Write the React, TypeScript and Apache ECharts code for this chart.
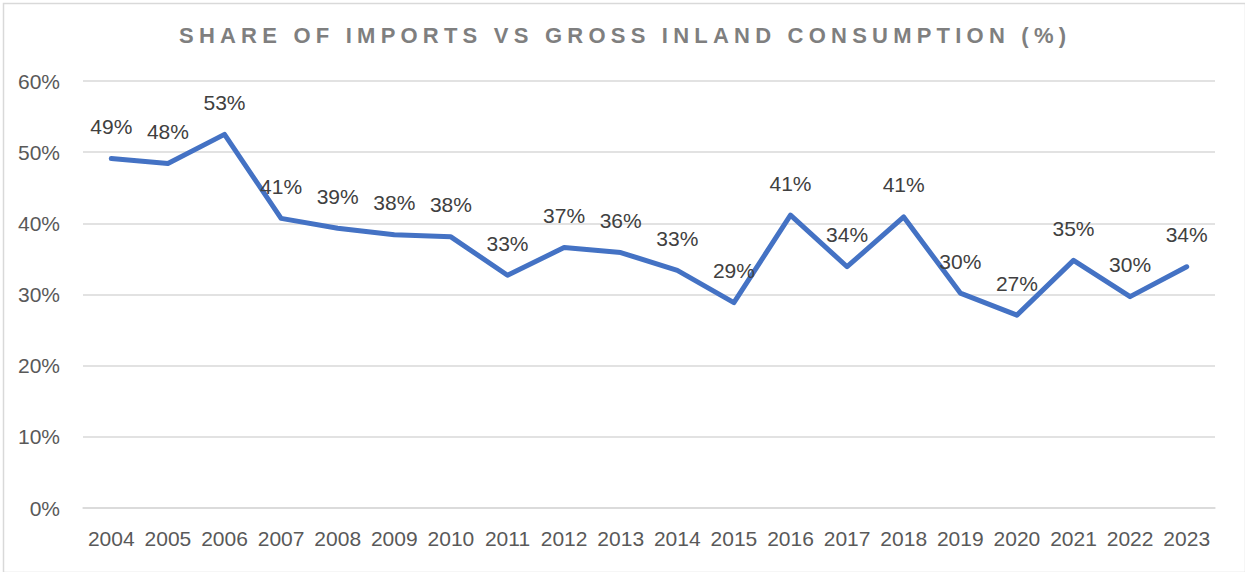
import React, { useEffect, useRef } from "react";
import * as echarts from "echarts";

const TITLE = "SHARE OF IMPORTS VS GROSS INLAND CONSUMPTION (%)";
const years = ["2004","2005","2006","2007","2008","2009","2010","2011","2012","2013","2014","2015","2016","2017","2018","2019","2020","2021","2022","2023"];
const shares = [49.1,48.4,52.5,40.7,39.3,38.4,38.1,32.7,36.6,35.9,33.4,28.85,41.15,33.9,40.9,30.2,27.1,34.8,29.7,33.9];
const yTicks = { min: 0, max: 60, interval: 10 };

const FONT = "'Liberation Sans', Arial, sans-serif";

export default function App() {
  const ref = useRef<HTMLDivElement>(null);
  useEffect(() => {
    const el = ref.current!;
    const chart = echarts.init(el, null, { renderer: "svg" });
    chart.setOption({
      animation: false,
      backgroundColor: "#ffffff",
      title: {
        text: TITLE,
        left: "center",
        top: 19,
        textStyle: { fontFamily: FONT, fontSize: 22, fontWeight: "bold", color: "#7f7f7f" },
      },
      graphic: [
        {
          type: "rect",
          left: 1,
          top: 1,
          shape: { x: 0, y: 0, width: 1242, height: 569 },
          style: { fill: "none", stroke: "#d9d9d9", lineWidth: 1.5 },
          silent: true,
        },
      ],
      grid: { left: 83, right: 30, top: 81, bottom: 64, containLabel: false },
      xAxis: {
        type: "category",
        data: years,
        boundaryGap: true,
        axisLine: { show: true, lineStyle: { color: "#d9d9d9", width: 1.5 } },
        axisTick: { show: false },
        axisLabel: { interval: 0, fontFamily: FONT, fontSize: 21, color: "#595959", margin: 20 },
      },
      yAxis: {
        type: "value",
        min: yTicks.min,
        max: yTicks.max,
        interval: yTicks.interval,
        axisLine: { show: false },
        axisTick: { show: false },
        splitLine: { lineStyle: { color: "#d9d9d9", width: 1.5 } },
        axisLabel: { fontFamily: FONT, fontSize: 21, color: "#595959", margin: 23, formatter: "{value}%" },
      },
      series: [
        {
          type: "line",
          data: shares,
          silent: true,
          showSymbol: true,
          showAllSymbol: true,
          symbol: "circle",
          symbolSize: 3,
          lineStyle: { color: "#4472C4", width: 5, cap: "round", join: "round" },
          itemStyle: { color: "#4472C4" },
          label: {
            show: true,
            position: "top",
            distance: 20,
            fontFamily: FONT,
            fontSize: 21,
            color: "#404040",
            formatter: (p: any) => Math.round(p.value) + "%",
          },
          labelLayout: { hideOverlap: false },
        },
      ],
    });
    const texts = el.querySelectorAll("text");
    texts.forEach((t) => {
      if (t.textContent === TITLE) {
        const target = 887;
        const len = (t as SVGTextElement).getComputedTextLength();
        const sp = (target - len) / (TITLE.length - 1);
        if (sp > 0) {
          t.setAttribute("letter-spacing", sp.toFixed(2));
          t.setAttribute("transform", (t.getAttribute("transform") || "") + ` translate(${(sp / 2).toFixed(2)} 0)`);
        }
      }
    });
    return () => chart.dispose();
  }, []);
  return <div ref={ref} style={{ position: "absolute", left: 0, top: 0, width: 1245, height: 572 }} />;
}
